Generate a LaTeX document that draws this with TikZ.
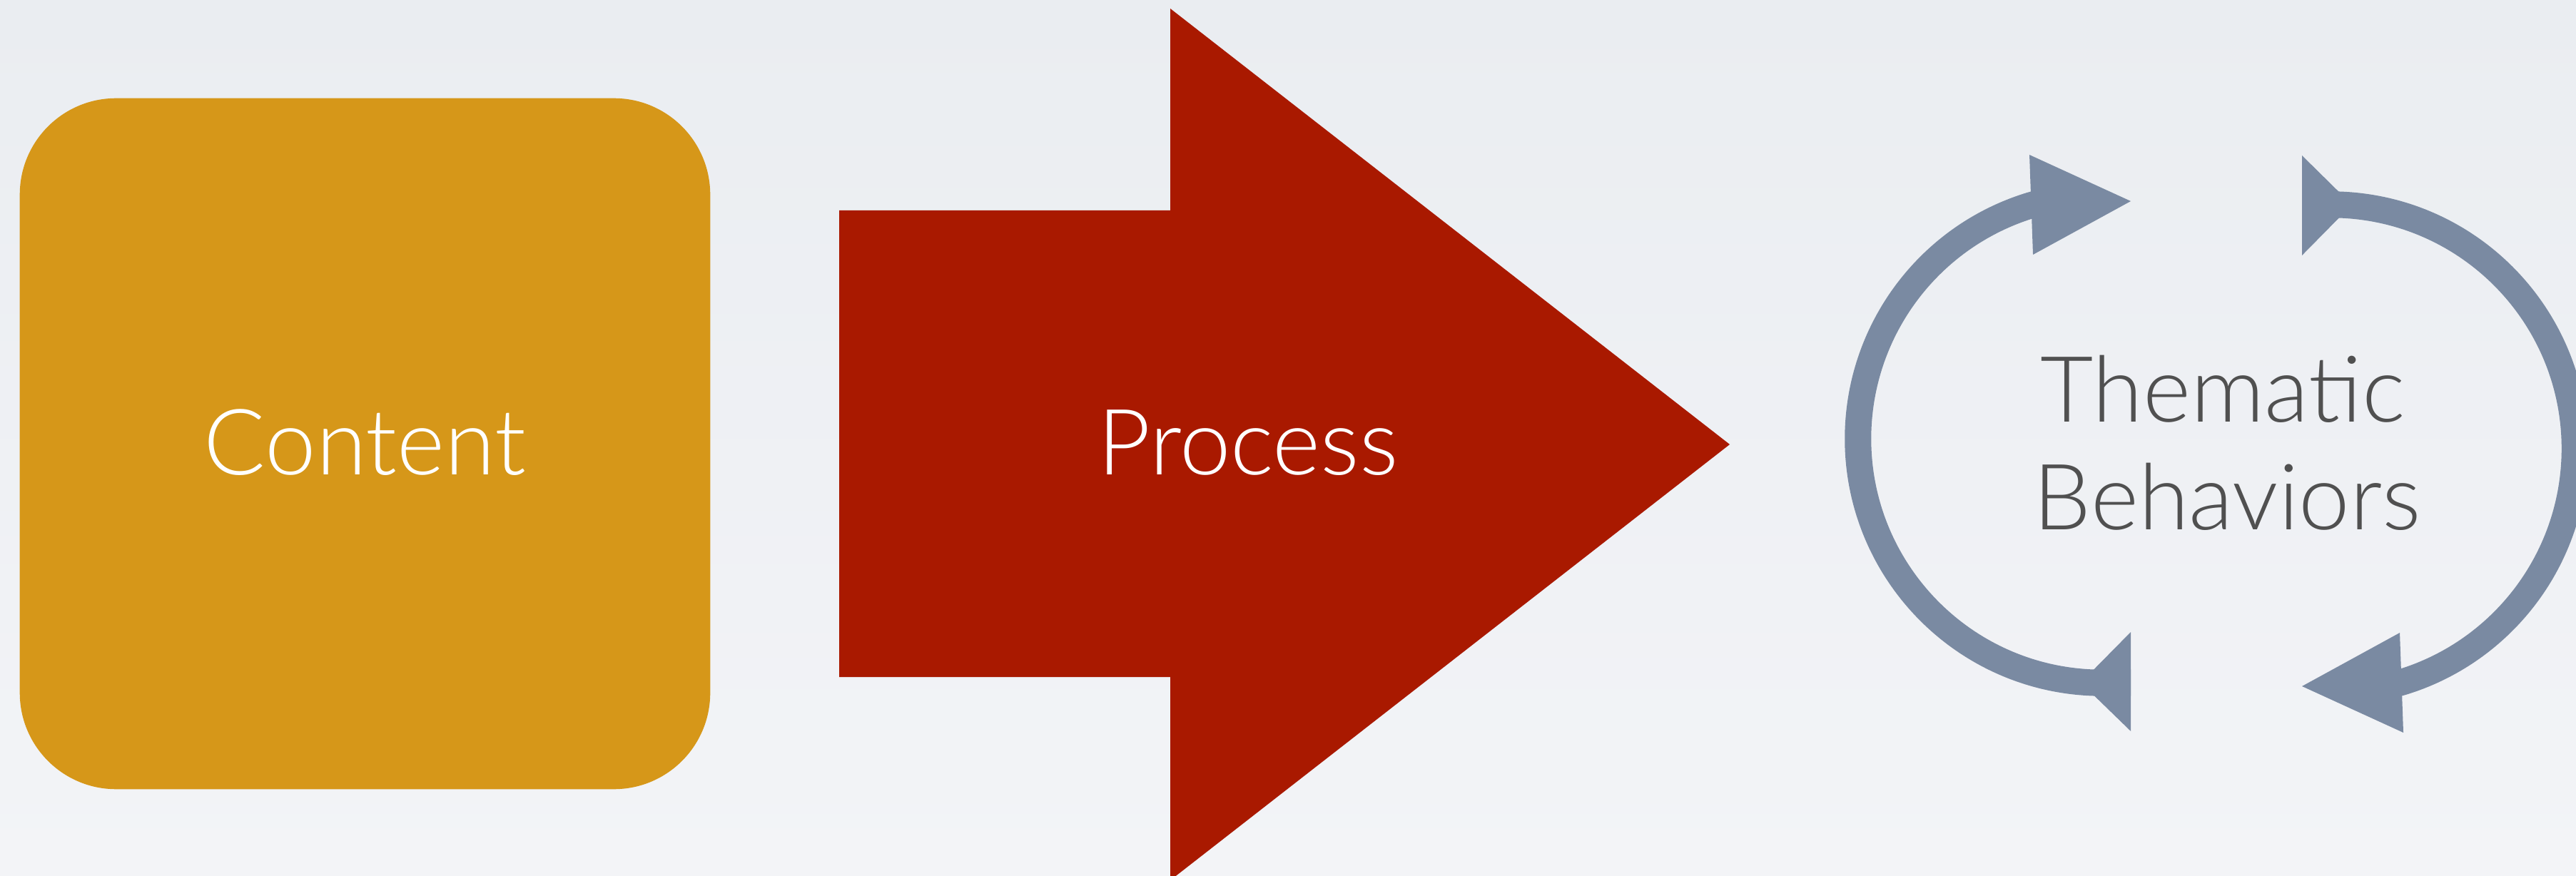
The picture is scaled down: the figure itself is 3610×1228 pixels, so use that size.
\documentclass[tikz,border=0pt]{standalone}
\usepackage{fontspec}
\IfFontExistsTF{Lato Light}{\setmainfont{Lato Light}}{\setmainfont{Lato}}
\usepackage{xcolor}
\usepackage{tikz}
\definecolor{bgtop}{RGB}{234,237,241}
\definecolor{bgbottom}{RGB}{243,244,247}
\definecolor{contentgold}{RGB}{214,151,25}
\definecolor{processred}{RGB}{169,25,0}
\definecolor{cycleblue}{RGB}{122,138,162}
\definecolor{labelgray}{RGB}{80,80,80}

\begin{document}
\begin{tikzpicture}[
        x=0.01cm, y=-0.01cm,
        word/.style={font=\fontsize{36.5}{43}\selectfont, inner sep=0pt},
        box/.style={fill=contentgold, rounded corners=1.35cm, minimum width=9.67cm, minimum height=9.68cm, text=white, word},
        cyclearc/.style={draw=cycleblue, line width=0.37cm},
        cyclehead/.style={fill=cycleblue}
    ]
        \useasboundingbox (0,0) rectangle (3610,1228);
        \shade[top color=bgtop, bottom color=bgbottom] (0,0) rectangle (3610,1228);
        \clip (0,0) rectangle (3610,1228);

        \node[box] (content) at (511.5,622) {};
        \node[word, text=white, anchor=base] (contentlabel) at (content.center |- 0,666) {Content};

        \fill[processred] (1176,295) -- (1640,295) -- (1640,12) -- (2424,623) -- (1640,1234) -- (1640,949) -- (1176,949) -- cycle;
        \node[word, text=white, anchor=base] (process) at (1749,666) {Process};

        \coordinate (ltail) at (2986,957);
        \coordinate (lhead) at (2870,281);
        \coordinate (rtail) at (3226,287);
        \coordinate (rhead) at (3342,963);

        \draw[cyclearc] (ltail) -- (2934,957) arc[start angle=268, end angle=107, radius=3.42cm] -- (lhead);
        \fill[cyclehead] (2844,217) -- (2986,282) -- (2849,357) -- cycle;
        \fill[cyclehead] (2986,886) -- (2916,957) -- (2986,1025) -- cycle;

        \draw[cyclearc] (rtail) -- (3278,287) arc[start angle=88, end angle=-73, radius=3.42cm] -- (rhead);
        \fill[cyclehead] (3368,1027) -- (3226,962) -- (3363,887) -- cycle;
        \fill[cyclehead] (3226,358) -- (3296,287) -- (3226,218) -- cycle;

        \node[word, text=labelgray, anchor=base] (thematic) at (3115,591) {Thematic};
        \node[word, text=labelgray, anchor=base] (behaviors) at (3121,742) {Behaviors};
\end{tikzpicture}
\end{document}
